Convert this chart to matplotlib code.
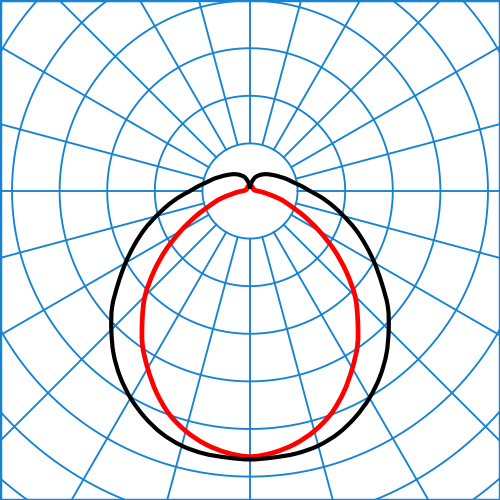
import numpy as np
import matplotlib
matplotlib.use("Agg")
import matplotlib.pyplot as plt
from matplotlib.path import Path
from matplotlib.patches import PathPatch

# intensidades (unidades do diagrama, anel = 50) por angulo gamma a partir da vertical para baixo
gamma_black = [0, 5, 10, 15, 20, 25, 30, 35, 40, 45, 50, 55, 60, 65, 70, 75, 80, 85,
               90, 95, 100, 105, 110, 115, 120, 130, 140, 150, 160, 170, 180]
black_vals = [282, 281, 280, 277, 271, 262, 251, 238, 223, 206, 189, 169, 151, 134, 118, 102, 88, 75,
              63, 55, 48, 43, 39, 35, 32, 27, 23, 19, 15, 9, 4]

gamma_red = [0, 5, 10, 15, 20, 25, 30, 35, 40, 45, 50, 55, 60, 65, 70, 75, 80, 85,
             90, 100, 120, 150, 180]
red_vals = [279, 276, 270, 261, 249, 233, 215, 197, 176, 156, 132, 108, 84, 63, 45, 33, 20, 13,
            8, 5, 4, 5, 6]

ring_step = 50
n_rings = 9
spoke_step = 15
grid_color = "#1683d3"

fig = plt.figure(figsize=(5, 5), dpi=100)
ax = fig.add_axes([0, 0, 1, 1])

# grelha polar
t = np.linspace(0, 2 * np.pi, 721)
for k in range(1, n_rings + 1):
    r = k * ring_step
    ax.plot(r * np.cos(t), r * np.sin(t), color=grid_color, lw=1.35, zorder=1)
for a in range(0, 360, spoke_step):
    ang = np.radians(a)
    ax.plot([ring_step * np.cos(ang), 700 * np.cos(ang)],
            [ring_step * np.sin(ang), 700 * np.sin(ang)],
            color=grid_color, lw=1.35, zorder=1)


def curva(gammas, vals):
    g = np.radians(np.array(gammas, dtype=float))
    v = np.array(vals, dtype=float)
    # lado esquerdo de 180 a 0, depois lado direito de 0 a 180
    x = np.concatenate([-(v * np.sin(g))[::-1], (v * np.sin(g))[1:]])
    y = np.concatenate([-(v * np.cos(g))[::-1], -(v * np.cos(g))[1:]])
    return x, y


def caminho_suave(x, y):
    # Catmull-Rom convertido em curvas de Bezier (so para o desenho)
    p = np.column_stack([x, y])
    verts = [p[0]]
    codes = [Path.MOVETO]
    n = len(p)
    for i in range(n - 1):
        p0 = p[i - 1] if i > 0 else p[i]
        p1 = p[i]
        p2 = p[i + 1]
        p3 = p[i + 2] if i + 2 < n else p[i + 1]
        c1 = p1 + (p2 - p0) / 6.0
        c2 = p2 - (p3 - p1) / 6.0
        verts += [c1, c2, p2]
        codes += [Path.CURVE4] * 3
    return Path(verts, codes)


xr, yr = curva(gamma_red, red_vals)
ax.add_patch(PathPatch(caminho_suave(xr, yr), fill=False, edgecolor="#ff0000",
                       lw=3.4, zorder=3, joinstyle="round", capstyle="round"))
xb, yb = curva(gamma_black, black_vals)
ax.add_patch(PathPatch(caminho_suave(xb, yb), fill=False, edgecolor="black",
                       lw=3.0, zorder=4, joinstyle="round", capstyle="round"))

px = ring_step / 47.6
ax.set_xlim(-250 * px, 250 * px)
ax.set_ylim(-309 * px, 191 * px)
ax.set_xticks([])
ax.set_yticks([])
for s in ax.spines.values():
    s.set_color(grid_color)
    s.set_linewidth(2.5)

fig.savefig("out.png", dpi=100)
